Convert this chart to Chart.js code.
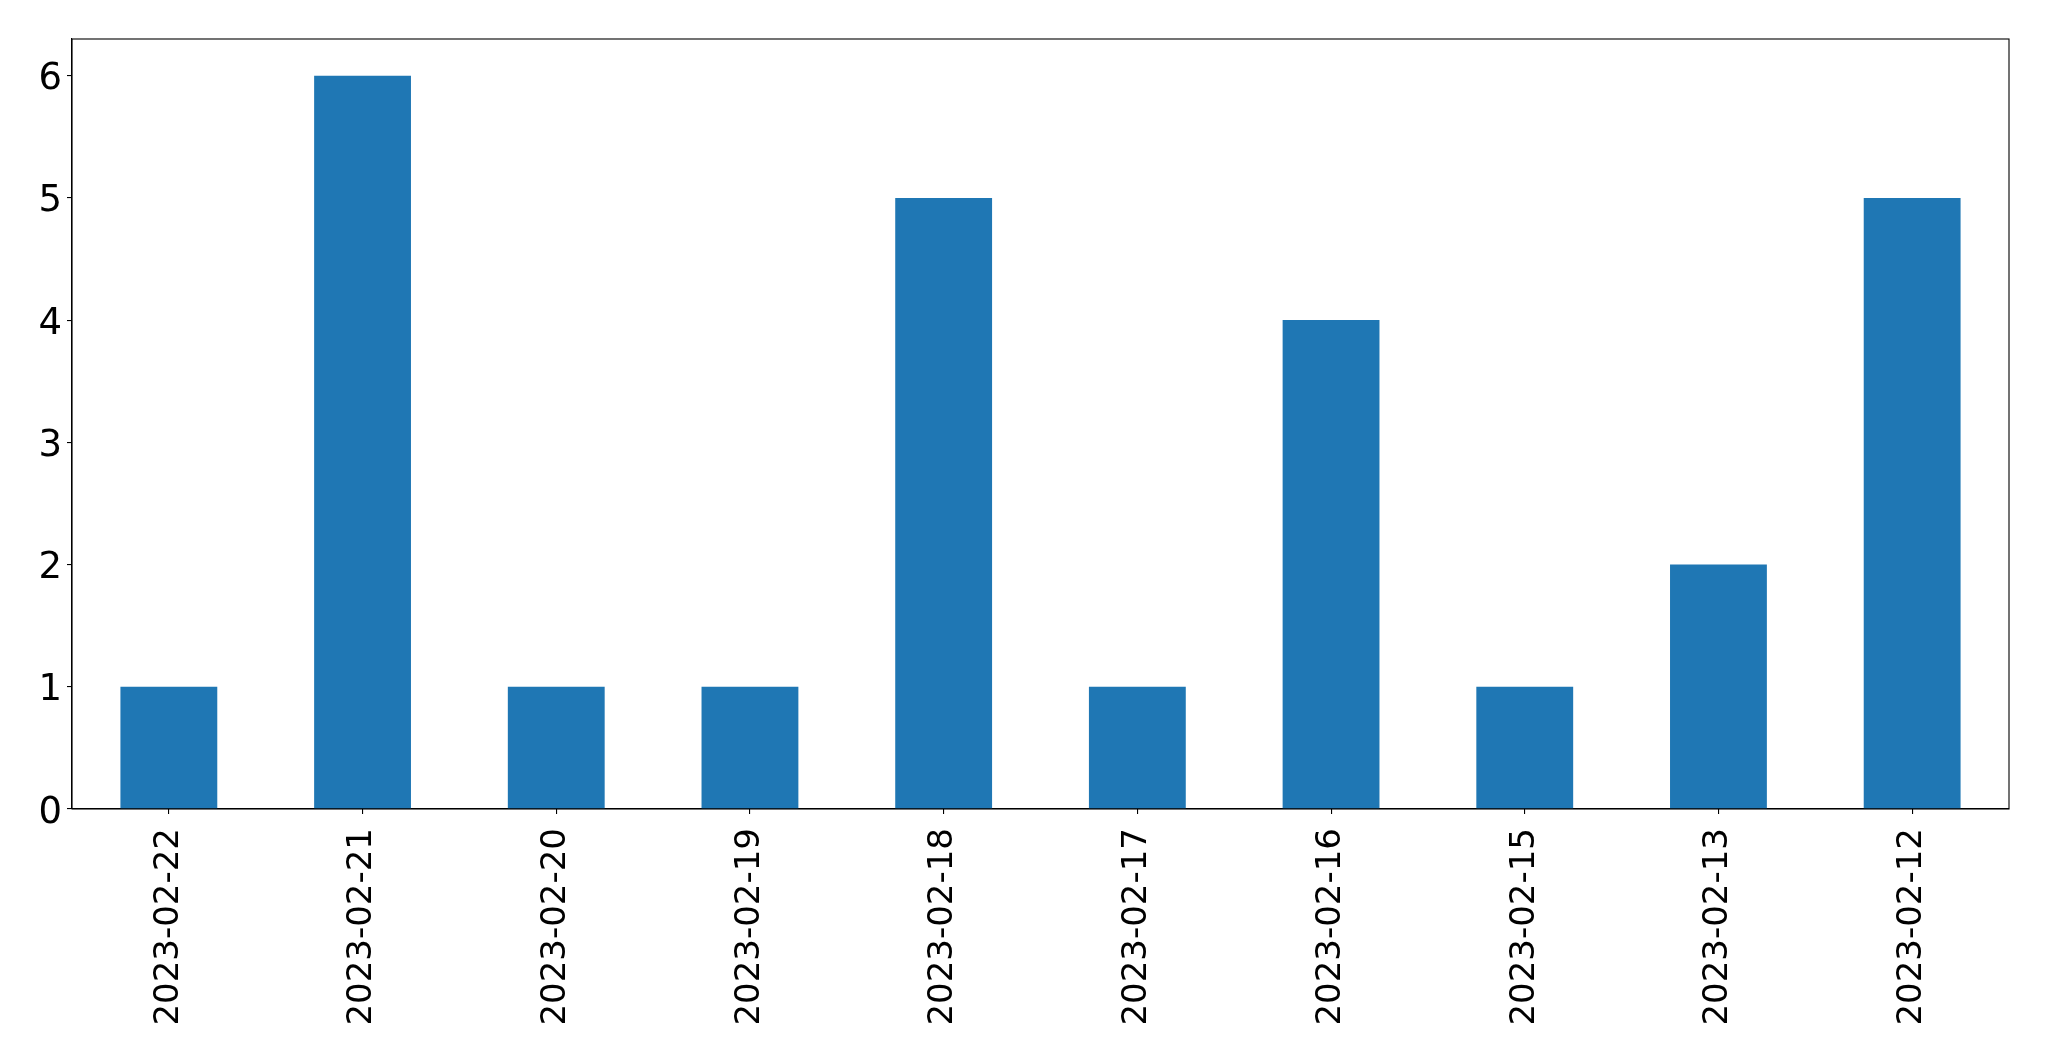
<!DOCTYPE html>
<html>
<head>
<meta charset="utf-8">
<script src="https://cdn.jsdelivr.net/npm/chart.js@4"></script>
<style>
  html, body { margin: 0; padding: 0; background: #fff; }
  #wrap { width: 2049px; height: 1061px; position: relative; }
</style>
</head>
<body>
<div id="wrap"><canvas id="c" width="2049" height="1061"></canvas></div>
<script>
const categories = ["2023-02-22", "2023-02-21", "2023-02-20", "2023-02-19", "2023-02-18",
                    "2023-02-17", "2023-02-16", "2023-02-15", "2023-02-13", "2023-02-12"];
const counts = [1, 6, 1, 1, 5, 1, 4, 1, 2, 5];
const yTicks = [0, 1, 2, 3, 4, 5, 6];
const yMax = 6.3;

const frame = {
  id: 'frame',
  afterDraw(chart) {
    const a = chart.chartArea, ctx = chart.ctx;
    ctx.save();
    ctx.strokeStyle = '#000';
    ctx.lineWidth = 1.1;
    ctx.strokeRect(a.left, a.top, a.right - a.left, a.bottom - a.top);
    ctx.restore();
  }
};

new Chart(document.getElementById('c'), {
  type: 'bar',
  data: {
    labels: categories,
    datasets: [{
      data: counts,
      backgroundColor: '#1f77b4',
      borderWidth: 0,
      barPercentage: 0.5,
      categoryPercentage: 1.0
    }]
  },
  options: {
    responsive: false,
    animation: false,
    devicePixelRatio: 1,
    layout: { padding: { left: 0, top: 39, right: 40, bottom: 0 } },
    plugins: { legend: { display: false }, tooltip: { enabled: false } },
    scales: {
      x: {
        offset: true,
        grid: { display: true, drawOnChartArea: false, drawTicks: true, tickLength: 5, color: '#000', lineWidth: 1.1, offset: false },
        border: { display: true, color: '#000', width: 1.1 },
        ticks: {
          color: '#000',
          font: { family: 'DejaVu Sans', size: 34 },
          maxRotation: 90, minRotation: 90,
          padding: 14,
          autoSkip: false
        },
        afterFit(scale) { scale.height = 252; }
      },
      y: {
        min: 0, max: yMax,
        grid: { display: true, drawOnChartArea: false, drawTicks: true, tickLength: 5, color: '#000', lineWidth: 1.1 },
        border: { display: true, color: '#000', width: 1.1 },
        afterBuildTicks(scale) { scale.ticks = yTicks.map(v => ({ value: v })); },
        ticks: {
          color: '#000',
          font: { family: 'DejaVu Sans', size: 37 },
          padding: 5,
          labelOffset: 4,
          callback: v => String(v)
        },
        afterFit(scale) { scale.width = 72; }
      }
    }
  },
  plugins: [frame]
});
</script>
</body>
</html>
